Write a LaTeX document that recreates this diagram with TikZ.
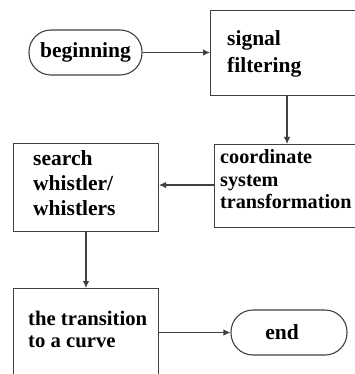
\documentclass[tikz,border=0pt]{standalone}
\usepackage{fontspec}
\setmainfont{Liberation Serif}[BoldFont={Liberation Serif Bold}]
\usetikzlibrary{arrows.meta}
\newcommand{\mylines}[3][21.5]{\fontsize{#1}{#2}\selectfont\bfseries\begin{tabular}[t]{@{}l@{}}#3\end{tabular}}
\begin{document}
\begin{tikzpicture}[x=1pt,y=-1pt,
  line/.style={draw=black!75, line width=1.1pt},
  boxnode/.style={line, rectangle, inner sep=0pt, anchor=north west},
  termnode/.style={line, rectangle, rounded corners=22pt, inner sep=0pt, font=\fontsize{21.5}{24}\selectfont\bfseries},
  txt/.style={anchor=base west, inner sep=0pt},
  arr/.style={line, -{Latex[length=7pt,width=6.5pt]}}]
\useasboundingbox (0,0) rectangle (354,374);
% boxes
\node[boxnode, minimum width=148pt, minimum height=85pt] (filt) at (210,10) {};
\node[boxnode, minimum width=146pt, minimum height=83pt] (coord) at (214,144) {};
\node[boxnode, minimum width=145pt, minimum height=88pt] (search) at (13,143) {};
\node[boxnode, minimum width=145pt, minimum height=100pt] (trans) at (13,288) {};
\node[termnode, minimum width=113pt, minimum height=45pt] (begin) at (85.5,52.5) {beginning};
\node[termnode, minimum width=116pt, minimum height=45pt] (end) at (289,332.5) {\hspace*{-14pt}end};
% texts
\node[txt] (tfilt) at (227,46) {\mylines{27}{signal\\filtering}};
\node[txt] (tcoord) at (220,164) {\mylines[20.2]{22}{coordinate\\system\\transformation}};
\node[txt] (tsearch) at (33,165) {\mylines{25}{search\\whistler/\\whistlers}};
\node[txt] (ttrans) at (28,325) {\mylines[20.7]{22}{the transition\\to a curve}};
% connector helpers
\coordinate (xa) at (287,0);
\coordinate (xb) at (86,0);
\coordinate (ya) at (0,185);
\coordinate (yb) at (0,332.5);
% connectors
\draw[arr] (begin.east) -- (filt.west |- begin.east);
\draw[arr] (filt.south -| xa) -- (coord.north -| xa);
\draw[arr] (coord.west |- ya) -- (search.east |- ya);
\draw[arr] (search.south -| xb) -- (trans.north -| xb);
\draw[arr] (trans.east |- yb) -- (end.west);
\end{tikzpicture}
\end{document}
